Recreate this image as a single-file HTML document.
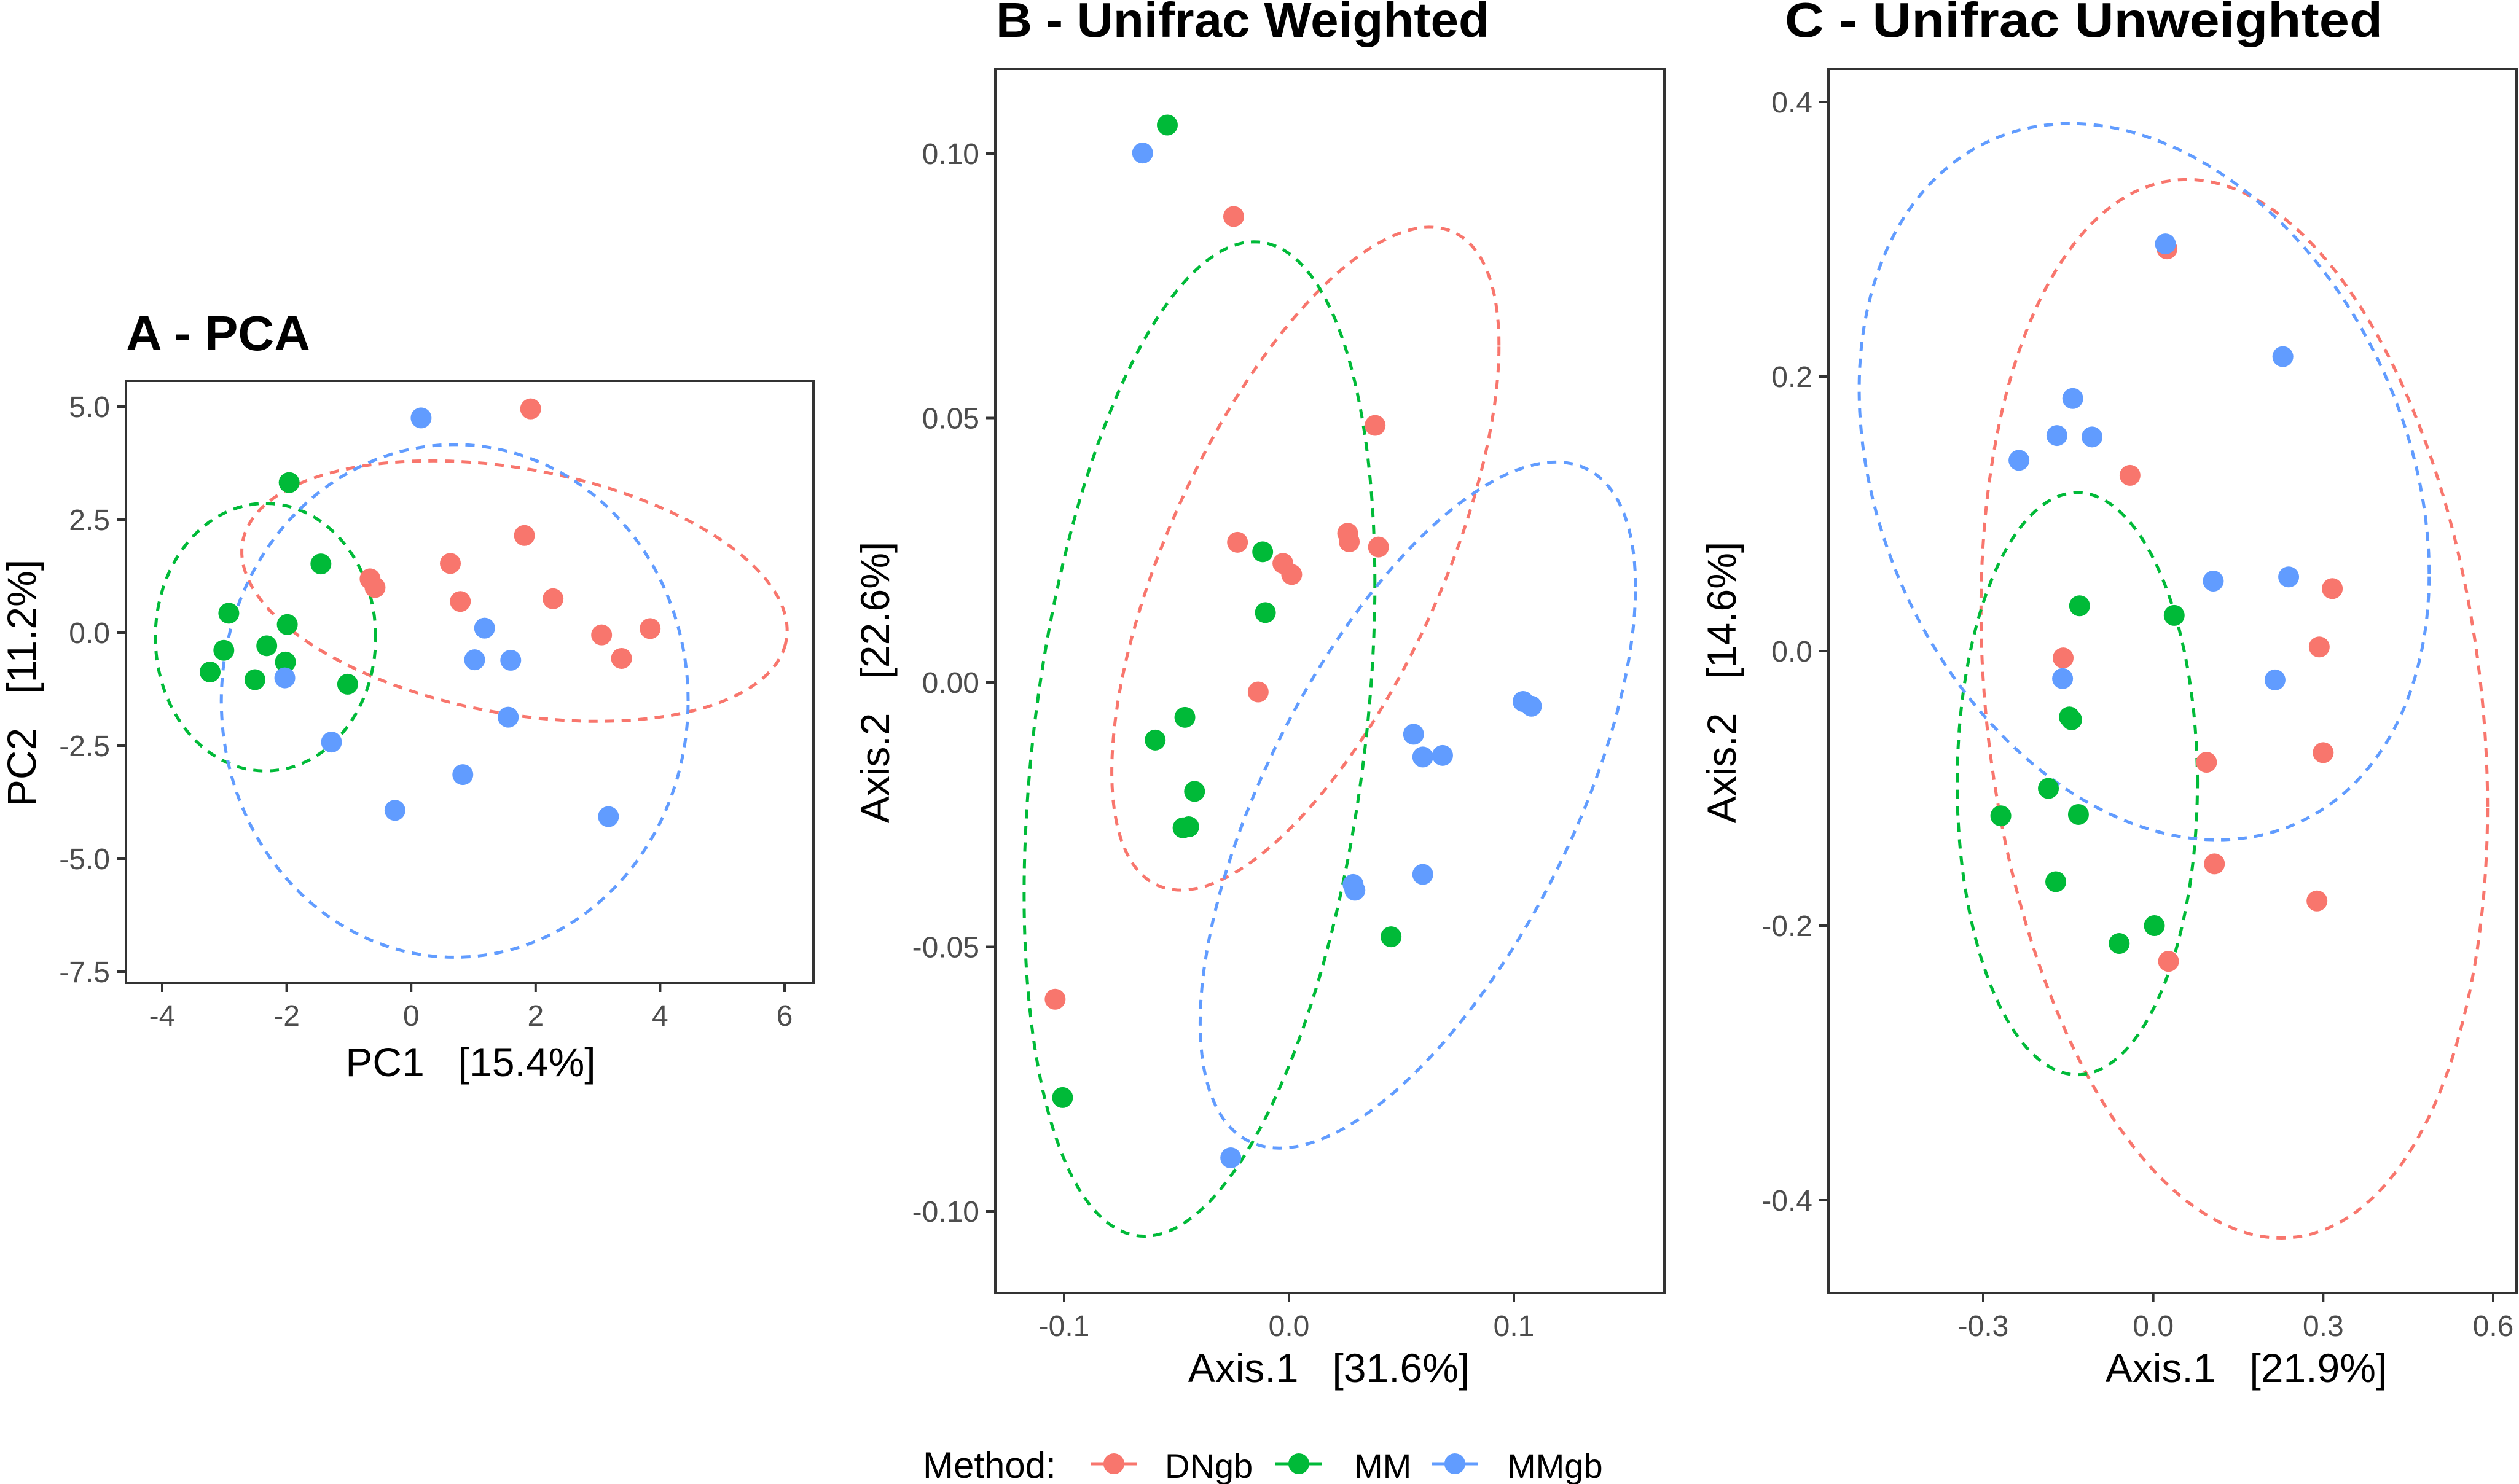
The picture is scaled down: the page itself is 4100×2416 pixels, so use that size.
<!DOCTYPE html>
<html><head><meta charset="utf-8"><style>
html,body{margin:0;padding:0;background:#fff;}
svg{display:block;font-family:"Liberation Sans",sans-serif;}
text{white-space:pre;}
</style></head><body>
<svg id="fig" width="4100" height="2416" viewBox="0 0 4100 2416" xmlns="http://www.w3.org/2000/svg">
<rect width="4100" height="2416" fill="#fff"/>
</svg>
<script>
// ---------- Panel A data (PCA) ----------
const aRedX = [1.92,1.82,0.63,0.79,-0.66,-0.58,2.28,3.06,3.84,3.38];
const aRedY = [4.95,2.15,1.53,0.69,1.19,1.0,0.75,-0.05,0.09,-0.57];
const aGreenX = [-1.96,-1.45,-2.93,-1.99,-3.01,-2.32,-2.02,-3.23,-2.51,-1.02];
const aGreenY = [3.32,1.52,0.43,0.18,-0.39,-0.29,-0.65,-0.87,-1.04,-1.14];
const aBlueX = [0.16,1.18,1.02,1.60,1.56,-2.03,-1.28,0.83,-0.26,3.17];
const aBlueY = [4.75,0.10,-0.60,-0.61,-1.87,-1.0,-2.42,-3.14,-3.93,-4.07];
const aXTicks = [-4,-2,0,2,4,6];
const aXTickLabels = ["-4","-2","0","2","4","6"];
const aYTicks = [5,2.5,0,-2.5,-5,-7.5];
const aYTickLabels = ["5.0","2.5","0.0","-2.5","-5.0","-7.5"];
const aEllRed = [1.66,0.92,4.34,-1.24,0.6,2.6];
const aEllGreen = [-2.34,-0.10,1.77,0,0,2.96];
const aEllBlue = [0.70,-1.51,3.75,0,0,5.67];

// ---------- Panel B data (Unifrac weighted) ----------
const bRedX = [-0.0246,0.0383,-0.0229,0.0261,0.0268,0.0398,-0.0027,0.0012,-0.0137,-0.104];
const bRedY = [0.0881,0.0486,0.0265,0.0282,0.0266,0.0256,0.0225,0.0204,-0.0018,-0.0599];
const bGreenX = [-0.0541,-0.0117,-0.0105,-0.0463,-0.0595,-0.042,-0.0471,-0.0446,0.0454,-0.1007];
const bGreenY = [0.1054,0.0247,0.0132,-0.0066,-0.0109,-0.0206,-0.0275,-0.0273,-0.0481,-0.0785];
const bBlueX = [-0.0651,0.0554,0.0595,0.0683,0.1041,0.1078,0.0285,0.0293,0.0595,-0.0259];
const bBlueY = [0.1001,-0.0098,-0.0141,-0.0138,-0.0036,-0.0045,-0.0382,-0.0393,-0.0363,-0.0899];
const bXTicks = [-0.1,0,0.1];
const bXTickLabels = ["-0.1","0.0","0.1"];
const bYTicks = [0.1,0.05,0,-0.05,-0.1];
const bYTickLabels = ["0.10","0.05","0.00","-0.05","-0.10"];
const bEllRed = [0.0073,0.0234,0.0861,0.0403,0,0.048];
const bEllGreen = [-0.0398,-0.0107,0.078,0.0294,0,0.0893];
const bEllBlue = [0.0573,-0.0232,0.0968,0.0412,0,0.0501];

// ---------- Panel C data (Unifrac unweighted) ----------
const cRedX = [0.0243,-0.041,0.316,0.293,-0.159,0.094,0.300,0.108,0.289,0.027];
const cRedY = [0.293,0.128,0.0455,0.003,-0.005,-0.081,-0.074,-0.155,-0.182,-0.226];
const cGreenX = [-0.130,0.037,-0.148,-0.144,-0.185,-0.269,-0.132,-0.172,0.002,-0.060];
const cGreenY = [0.033,0.026,-0.048,-0.050,-0.100,-0.120,-0.119,-0.168,-0.200,-0.213];
const cBlueX = [0.0215,0.2288,-0.142,-0.170,-0.108,-0.237,0.106,0.239,-0.160,0.215];
const cBlueY = [0.2966,0.2145,0.184,0.157,0.156,0.139,0.051,0.054,-0.020,-0.021];
const cXTicks = [-0.3,0,0.3,0.6];
const cXTickLabels = ["-0.3","0.0","0.3","0.6"];
const cYTicks = [0.4,0.2,0,-0.2,-0.4];
const cYTickLabels = ["0.4","0.2","0.0","-0.2","-0.4"];
const cEllRed = [0.143,-0.042,0.447,-0.0716,0,0.3788];
const cEllGreen = [-0.134,-0.0966,0.212,0,0,0.212];
const cEllBlue = [-0.016,0.1234,0.503,-0.0674,0,0.252];

const RED="#F8766D", GREEN="#00BA38", BLUE="#619CFF";
const NS="http://www.w3.org/2000/svg";
const svg=document.getElementById('fig');
function mk(tag,attrs,parent,txt){const e=document.createElementNS(NS,tag);for(const k in attrs)e.setAttribute(k,attrs[k]);if(txt!==undefined)e.textContent=txt;(parent||svg).appendChild(e);return e;}
function lin(d0,d1,p0,p1){return v=>p0+(v-d0)*(p1-p0)/(d1-d0);}

function panel(cfg){
  const g=mk('g',{});
  
  
  const sx=cfg.sx, sy=cfg.sy, b=cfg.box;
  const t=mk('text',{x:cfg.titleX,y:cfg.titleY,'font-size':80,'font-weight':'bold',fill:'#000',textLength:cfg.titleW,lengthAdjust:'spacingAndGlyphs'},g,cfg.title);
  
  
  const clipId=cfg.name+'-clip';
  const defs=mk('defs',{},g);
  const cp=mk('clipPath',{id:clipId},defs);
  mk('rect',{x:b[0],y:b[1],width:b[2]-b[0],height:b[3]-b[1]},cp);
  const plot=mk('g',{'clip-path':'url(#'+clipId+')'},g);
  
  
  cfg.ells.forEach(([e,col,nm])=>{
    let d='';
    for(let i=0;i<=200;i++){const a=i/200*2*Math.PI;
      const x=e[0]+e[2]*Math.cos(a)+e[4]*Math.sin(a), y=e[1]+e[3]*Math.cos(a)+e[5]*Math.sin(a);
      d+=(i?'L':'M')+sx(x).toFixed(1)+' '+sy(y).toFixed(1);}
    const p=mk('path',{d:d+'Z',fill:'none',stroke:col,'stroke-width':5,'stroke-dasharray':'15 12'},plot);
    
    
  });
  cfg.series.forEach(([xs,ys,col,nm])=>{
    xs.forEach((x,i)=>{
      const c=mk('circle',{cx:sx(x),cy:sy(ys[i]),r:17,fill:col},plot);
      
      
    });
  });
  mk('rect',{x:b[0],y:b[1],width:b[2]-b[0],height:b[3]-b[1],fill:'none',stroke:'#333','stroke-width':4},g);
  cfg.xt.forEach((v,i)=>{
    const x=sx(v);
    mk('line',{x1:x,x2:x,y1:b[3],y2:b[3]+15,stroke:'#333','stroke-width':4},g);
    const tl=mk('text',{x:x,y:b[3]+70,'font-size':48,fill:'#4d4d4d','text-anchor':'middle'},g,cfg.xl[i]);
    
    
  });
  cfg.yt.forEach((v,i)=>{
    const y=sy(v);
    mk('line',{x1:b[0]-15,x2:b[0],y1:y,y2:y,stroke:'#333','stroke-width':4},g);
    const tl=mk('text',{x:b[0]-26,y:y+17,'font-size':48,fill:'#4d4d4d','text-anchor':'end'},g,cfg.yl[i]);
    
    
  });
  const xtl=mk('text',{x:cfg.xTitle[0],y:cfg.xTitle[1],'font-size':66,fill:'#000','text-anchor':'middle'},g,cfg.xTitle[2]);
  
  
  const ytl=mk('text',{x:0,y:0,'font-size':66,fill:'#000','text-anchor':'middle',transform:'translate('+cfg.yTitle[0]+','+cfg.yTitle[1]+') rotate(-90)'},g,cfg.yTitle[2]);
  
  
}

panel({name:'panel-a-pca',title:'A - PCA',titleX:205,titleY:570,titleW:300,
  box:[205,620,1324,1600],sx:lin(-4,6,264,1277),sy:lin(5,-7.5,662,1582),
  xt:aXTicks,xl:aXTickLabels,yt:aYTicks,yl:aYTickLabels,
  xTitle:[766,1752,'PC1   [15.4%]'],yTitle:[58,1112,'PC2   [11.2%]'],
  ells:[[aEllRed,RED,'ellipse-dngb'],[aEllGreen,GREEN,'ellipse-mm'],[aEllBlue,BLUE,'ellipse-mmgb']],
  series:[[aRedX,aRedY,RED,'point-dngb'],[aGreenX,aGreenY,GREEN,'point-mm'],[aBlueX,aBlueY,BLUE,'point-mmgb']]});

panel({name:'panel-b-unifrac-weighted',title:'B - Unifrac Weighted',titleX:1621,titleY:60,titleW:803,
  box:[1620,112,2709,2105],sx:lin(-0.1,0.1,1732,2464),sy:lin(0.1,-0.1,250,1972),
  xt:bXTicks,xl:bXTickLabels,yt:bYTicks,yl:bYTickLabels,
  xTitle:[2163,2250,'Axis.1   [31.6%]'],yTitle:[1447,1111,'Axis.2   [22.6%]'],
  ells:[[bEllRed,RED,'ellipse-dngb'],[bEllGreen,GREEN,'ellipse-mm'],[bEllBlue,BLUE,'ellipse-mmgb']],
  series:[[bRedX,bRedY,RED,'point-dngb'],[bGreenX,bGreenY,GREEN,'point-mm'],[bBlueX,bBlueY,BLUE,'point-mmgb']]});

panel({name:'panel-c-unifrac-unweighted',title:'C - Unifrac Unweighted',titleX:2905,titleY:60,titleW:973,
  box:[2976,112,4096,2105],sx:lin(-0.3,0.6,3228,4058),sy:lin(0.4,-0.4,166,1954),
  xt:cXTicks,xl:cXTickLabels,yt:cYTicks,yl:cYTickLabels,
  xTitle:[3656,2250,'Axis.1   [21.9%]'],yTitle:[2825,1111,'Axis.2   [14.6%]'],
  ells:[[cEllRed,RED,'ellipse-dngb'],[cEllGreen,GREEN,'ellipse-mm'],[cEllBlue,BLUE,'ellipse-mmgb']],
  series:[[cRedX,cRedY,RED,'point-dngb'],[cGreenX,cGreenY,GREEN,'point-mm'],[cBlueX,cBlueY,BLUE,'point-mmgb']]});

const lg=mk('g',{});


mk('text',{x:1502,y:2406,'font-size':60,fill:'#000'},lg,'Method:');
[[1813,RED,'DNgb',1896],[2114,GREEN,'MM',2204],[2368,BLUE,'MMgb',2453]].forEach(([cx,col,lab,tx])=>{
  const e=mk('g',{},lg);
  
  
  mk('line',{x1:cx-38,x2:cx+38,y1:2383,y2:2383,stroke:col,'stroke-width':5},e);
  mk('circle',{cx:cx,cy:2383,r:17,fill:col},e);
  mk('text',{x:tx,y:2406,'font-size':56,fill:'#000'},e,lab);
});
</script>
</body></html>
